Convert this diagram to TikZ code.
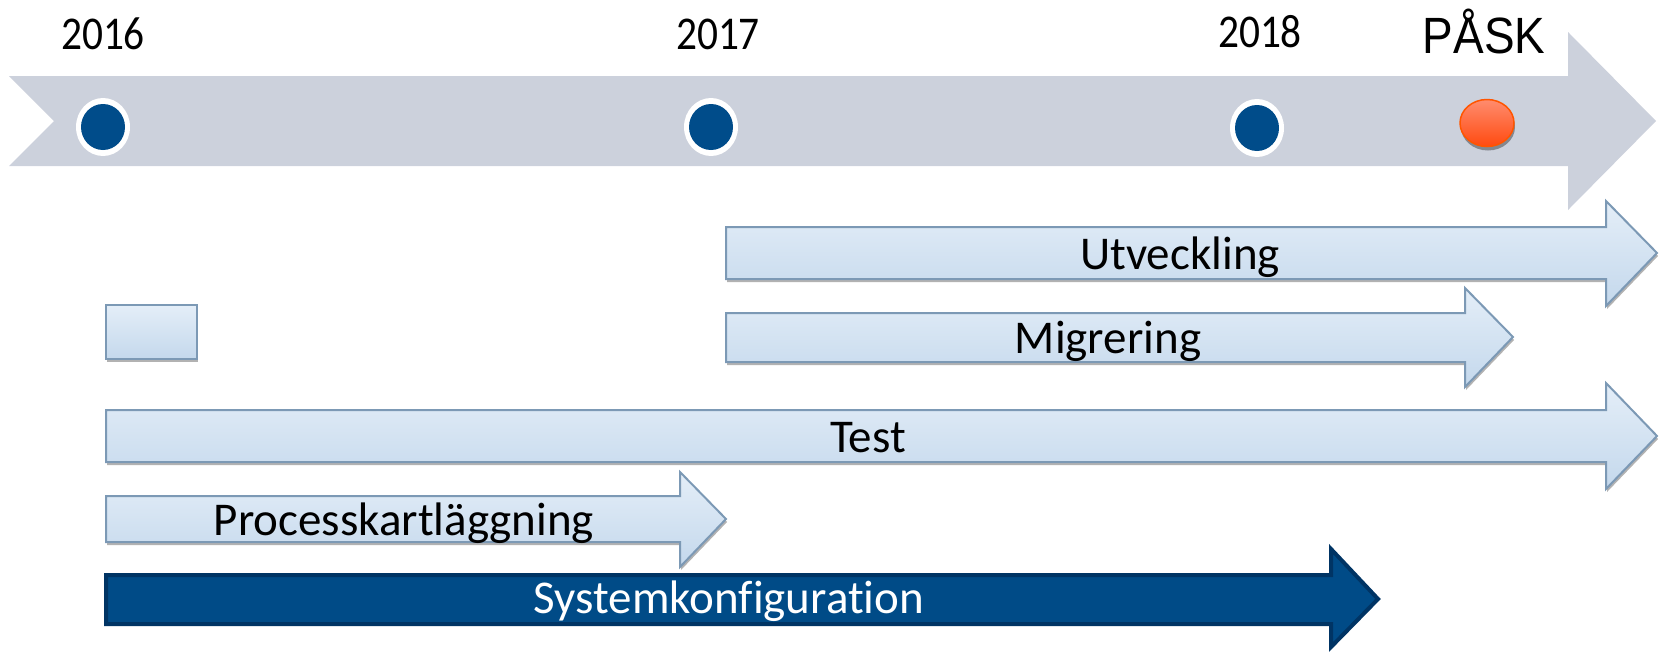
\documentclass[tikz,border=0pt]{standalone}
\usepackage{fontspec}
\setmainfont{Carlito}[RawFeature={-liga;-clig;-dlig}]
\newfontfamily\askfont{Liberation Sans}
\usetikzlibrary{shadows}
\definecolor{band}{RGB}{204,209,220}
\definecolor{lighttop}{RGB}{228,238,248}
\definecolor{lightbot}{RGB}{196,216,236}
\definecolor{lightline}{RGB}{124,153,181}
\definecolor{navy}{RGB}{0,75,135}
\definecolor{navyline}{RGB}{0,52,100}
\definecolor{dotblue}{RGB}{0,76,138}
\definecolor{orangetop}{RGB}{255,140,110}
\definecolor{orangebot}{RGB}{255,74,16}
\definecolor{orangeline}{RGB}{255,85,0}
\tikzset{
  lightbar/.style={top color=lighttop, bottom color=lightbot, draw=lightline, line width=2pt,
    drop shadow={shadow xshift=1pt, shadow yshift=-3pt, opacity=0.3, fill=black}},
  darkbar/.style={fill=navy, draw=navyline, line width=4pt, line join=miter},
  barlabel/.style={anchor=base, inner sep=0pt, font=\fontsize{47}{47}\selectfont},
  yearlabel/.style={anchor=base, inner sep=0pt, font=\fontsize{47}{47}\selectfont},
  ring/.style={fill=white, draw=none},
  dot/.style={fill=dotblue, draw=none}
}
\begin{document}
\begin{tikzpicture}[x=1pt,y=-1pt]
\useasboundingbox (0,0) rectangle (1662,651);
% timeline band
\fill[band] (9,76) -- (1568,76) -- (1568,32) -- (1656,121) -- (1568,210) -- (1568,166) -- (9,166) -- (54,121) -- cycle;
% dots
\foreach \n/\cx/\cy in {d16/103/127, d17/711/127, d18/1257/128}{
  \fill[ring] (\cx,\cy) ellipse [x radius=27, y radius=29];
  \fill[dot] (\cx,\cy) ellipse [x radius=22, y radius=23];
}
\shade[top color=orangetop, bottom color=orangebot, draw=orangeline, line width=1.5pt,
  drop shadow={shadow xshift=1pt, shadow yshift=-4pt, opacity=0.35, fill=black}]
  (1487,123) ellipse [x radius=27, y radius=23.5];
% year labels
\node[yearlabel] (y16) at (103,49) {\scalebox{0.88}[1]{2016}};
\node[yearlabel] (y17) at (718,49) {\scalebox{0.88}[1]{2017}};
\node[yearlabel] (y18) at (1260,47) {\scalebox{0.88}[1]{2018}};
\node[anchor=base, inner sep=0pt, font=\askfont\fontsize{51}{51}\selectfont] (pask) at (1484,53) {\scalebox{0.9}[1]{PÅSK}};
% bars
\path[lightbar] (726,227) -- (1606,227) -- (1606,201) -- (1657,253) -- (1606,306) -- (1606,279) -- (726,279) -- cycle;
\path[lightbar] (726,313) -- (1465,313) -- (1465,288) -- (1513,337) -- (1465,387) -- (1465,362) -- (726,362) -- cycle;
\path[lightbar] (106,305) rectangle (197,359);
\path[lightbar] (106,410) -- (1606,410) -- (1606,383) -- (1657,436) -- (1606,489) -- (1606,462) -- (106,462) -- cycle;
\path[lightbar] (106,496) -- (680,496) -- (680,472) -- (726,519) -- (680,567) -- (680,542) -- (106,542) -- cycle;
\path[darkbar] (106,575) -- (1331,575) -- (1331,549) -- (1378,599) -- (1331,647) -- (1331,624) -- (106,624) -- cycle;
% bar labels
\node[barlabel] (utv) at (1180,269) {Utveckling};
\node[barlabel] (mig) at (1108,353) {Migrering};
\node[barlabel] (test) at (868,452) {Test};
\node[barlabel] (proc) at (404,535) {Processkartläggning};
\node[barlabel, text=white] (sys) at (729,613) {Systemkonfiguration};
\end{tikzpicture}
\end{document}
